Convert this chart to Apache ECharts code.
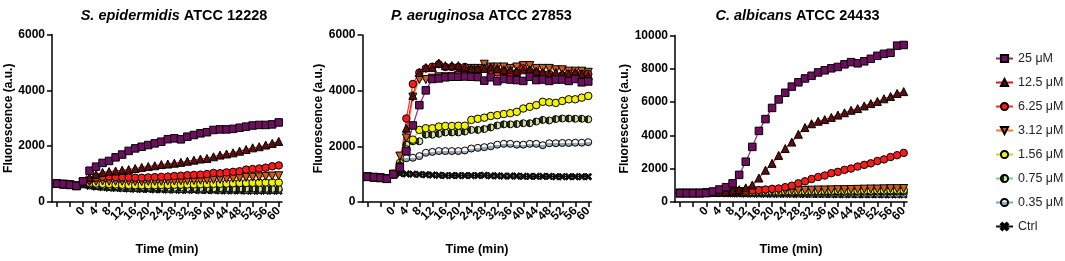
<!DOCTYPE html>
<html>
<head>
<meta charset="utf-8">
<script src="https://cdn.jsdelivr.net/npm/echarts@6/dist/echarts.min.js"></script>
<style>
    html, body { margin: 0; padding: 0; background: #fff; }
    #chart { width: 1065px; height: 261px; }
</style>
</head>
<body>
<div id="chart"></div>
<script>
// time points (min), sampled every 2 min
var times = [-8,-6,-4,-2,0,2,4,6,8,10,12,14,16,18,20,22,24,26,28,30,32,34,36,38,40,42,44,46,48,50,52,54,56,58,60];
var tickValues = [-8,-4,0,4,8,12,16,20,24,28,32,36,40,44,48,52,56,60];
// 56 goes on its own label axis, otherwise echarts drops it next to the max label
var labelValues = [0,4,8,12,16,20,24,28,32,36,40,44,48,52,60];
var extraLabel = [56];
var concNames = ['25 μM','12.5 μM','6.25 μM','3.12 μM','1.56 μM','0.75 μM','0.35 μM','Ctrl'];

// S. epidermidis ATCC 12228
var epi25   = [660,640,620,580,740, 1120,1265,1400,1470,1600,1700,1830,1920,1980,2040, 2100,2160,2250,2280,2245,2340,2400,2460,2500,2580, 2600,2600,2620,2660,2700,2740,2760,2760,2780,2850];
var epi12_5 = [660,640,620,580,720, 880,990,1060,1090,1110,1140,1160,1200,1240,1270, 1300,1340,1360,1390,1420,1460,1500,1540,1560,1620, 1680,1720,1760,1820,1880,1940,1980,2040,2100,2170];
var epi6_25 = [660,640,620,580,720, 800,870,900,910,890,880,880,870,870,880, 890,900,910,930,940,960,970,980,1000,1040, 1030,1060,1080,1100,1160,1180,1200,1230,1280,1310];
var epi3_12 = [660,640,620,580,700, 720,740,750,740,740,740,740,730,730,740, 740,740,750,750,760,760,770,780,790,800, 810,830,850,860,880,890,900,920,930,940];
var epi1_56 = [660,640,620,580,690, 680,660,650,640,630,620,610,600,600,600, 600,610,610,620,620,630,630,640,640,650, 650,660,670,680,680,690,690,700,700,700];
var epi0_75 = [660,640,620,580,650, 620,600,580,570,560,550,540,540,530,530, 520,520,510,510,510,500,500,500,500,490, 490,490,480,480,480,480,470,470,470,470];
var epi0_35 = [660,640,620,580,630, 590,570,550,530,520,510,500,500,490,490, 480,480,470,470,460,460,460,450,450,450, 440,440,440,440,430,430,430,430,430,430];
var epiCtrl = [660,640,620,580,610, 570,540,520,500,490,480,470,460,450,450, 440,440,430,430,420,420,420,410,410,410, 400,400,400,400,390,390,390,390,390,390];

// P. aeruginosa ATCC 27853
var aer25   = [910,890,870,840,1000, 1240,1830,2750,3480,4010,4420,4440,4480,4500,4500, 4510,4500,4490,4360,4480,4340,4420,4400,4380,4350, 4500,4380,4400,4350,4400,4400,4350,4420,4300,4330];
var aer12_5 = [910,890,870,840,1000, 1360,2650,3830,4650,4830,4830,4990,4900,4900,4900, 4850,4800,4800,4800,4850,4800,4750,4750,4700,4750, 4750,4700,4650,4600,4650,4600,4600,4650,4600,4550];
var aer6_25 = [910,890,870,840,1000, 1300,3000,4240,4650,4800,4860,4950,4850,4850,4850, 4850,4750,4750,4800,4750,4650,4700,4600,4650,4800, 4700,4650,4600,4600,4500,4550,4600,4550,4600,4600];
var aer3_12 = [910,890,870,840,1000, 1650,2300,3770,4400,4400,4450,4500,4500,4500,4550, 4550,4800,4800,4950,4850,4850,4850,4800,4850,4900, 4900,4800,4800,4800,4750,4750,4700,4700,4700,4660];
var aer1_56 = [910,890,870,840,1000, 1400,1890,2240,2590,2650,2650,2710,2730,2730,2740, 2740,2950,2990,3030,3090,3120,3160,3190,3240,3360, 3420,3480,3600,3580,3560,3630,3690,3690,3750,3810];
var aer0_75 = [910,890,870,840,1000, 1350,2060,2180,2180,2420,2420,2450,2500,2500,2500, 2530,2590,2590,2620,2680,2750,2790,2790,2800,2830, 2830,2890,2950,2930,2980,3000,3000,2990,2990,2970];
var aer0_35 = [910,890,870,840,1000, 1250,1570,1590,1650,1770,1800,1830,1830,1830,1830, 1850,1920,1945,1970,2000,2060,2090,2090,2060,2060, 2090,2090,2040,2110,2110,2120,2120,2130,2130,2150];
var aerCtrl = [910,890,870,840,1000, 1020,1010,1000,990,980,970,960,950,950,950, 950,950,950,960,940,940,930,930,930,920, 920,920,920,920,910,910,910,910,910,910];

// C. albicans ATCC 24433
var alb25   = [530,530,530,530,540, 630,750,890,1120,1630,2420,3310,4270,4980,5650, 6160,6560,6930,7190,7420,7580,7780,7910,8030,8110, 8270,8400,8330,8450,8600,8780,8900,8960,9390,9430];
var alb12_5 = [540,540,540,540,560, 580,600,630,680,740,850,1020,1440,1910,2320, 2800,3210,3600,4070,4470,4700,4850,4950,5080,5220, 5360,5510,5610,5770,5910,6040,6200,6340,6520,6630];
var alb6_25 = [540,540,540,540,560, 580,600,620,640,660,680,700,720,750,790, 810,890,980,1120,1240,1380,1500,1590,1730,1810, 1930,2010,2130,2230,2320,2460,2560,2700,2810,2950];
var alb3_12 = [540,540,540,540,560, 570,590,600,610,620,630,640,650,650,660, 670,680,690,690,700,710,720,720,730,740, 740,750,760,770,780,780,790,800,800,810];
var alb1_56 = [540,540,540,540,550, 560,570,580,580,590,600,600,610,610,620, 620,630,630,640,640,650,650,660,660,670, 670,680,680,690,690,700,700,710,710,720];
var alb0_75 = [540,540,540,540,545, 550,555,560,560,565,570,570,575,575,580, 580,585,585,590,590,595,595,600,600,600, 605,605,610,610,610,615,615,620,620,620];
var alb0_35 = [540,540,540,540,540, 535,530,530,525,525,520,520,515,515,510, 510,510,505,505,505,500,500,500,500,495, 495,495,490,490,490,490,490,485,485,485];
var albCtrl = [540,540,540,540,530, 520,510,500,495,490,485,480,475,470,470, 465,465,460,460,455,455,450,450,450,445, 445,445,440,440,440,440,435,435,435,435];

var panels = [
    { title: 'S. epidermidis', strain: 'ATCC 12228', yMax: 6000, data: [epi25, epi12_5, epi6_25, epi3_12, epi1_56, epi0_75, epi0_35, epiCtrl] },
    { title: 'P. aeruginosa', strain: 'ATCC 27853', yMax: 6000, data: [aer25, aer12_5, aer6_25, aer3_12, aer1_56, aer0_75, aer0_35, aerCtrl] },
    { title: 'C. albicans', strain: 'ATCC 24433', yMax: 10000, data: [alb25, alb12_5, alb6_25, alb3_12, alb1_56, alb0_75, alb0_35, albCtrl] }
];

var FONT = 'Arial, "Liberation Sans", sans-serif';

function split(c1, c2, vertical) {
    return {
        type: 'linear', x: 0, y: 0, x2: vertical ? 0 : 1, y2: vertical ? 1 : 0,
        colorStops: [
            { offset: 0, color: c1 }, { offset: 0.5, color: c1 },
            { offset: 0.5, color: c2 }, { offset: 1, color: c2 }
        ]
    };
}

var xMark = 'path://M2,0L5,3L8,0L10,2L7,5L10,8L8,10L5,7L2,10L0,8L3,5L0,2Z';

// line colour, symbol, fill, size
var styles = [
    { line: '#8e2a86', symbol: 'rect', fill: '#6d0f5e', size: 7.5 },
    { line: '#e8141c', symbol: 'triangle', fill: '#5a0e0e', size: 8 },
    { line: '#ff2a1a', symbol: 'circle', fill: '#ff1a1a', size: 7.5 },
    { line: '#ff7a20', symbol: 'triangle', fill: '#d45a1a', size: 8, rotate: 180 },
    { line: '#d8d800', symbol: 'circle', fill: '#f2f200', size: 7.5 },
    { line: '#5ee07a', symbol: 'circle', fill: split('#2a2a1a', '#d4e3a0', false), size: 7 },
    { line: '#5aaee8', symbol: 'circle', fill: split('#f4f4f4', '#9aa8b4', true), size: 7 },
    { line: '#111111', symbol: xMark, fill: '#111111', size: 7 }
];

var grids = [
    { left: 52, top: 34.5, width: 230, height: 167.5 },
    { left: 362.5, top: 35, width: 229, height: 170 },
    { left: 675, top: 35.5, width: 232, height: 169.5 }
];
var titleX = [169, 476.5, 792.5];
var yNameGap = [36, 32, 44];

var titles = [], xAxes = [], yAxes = [], series = [];

var xLabelStyle = {
    rotate: 45, margin: 7, hideOverlap: false,
    showMinLabel: true, showMaxLabel: true, lineHeight: 7,
    fontFamily: FONT, fontSize: 12, fontWeight: 'bold', color: '#000'
};

panels.forEach(function (p, g) {
    titles.push({
        text: '{i|' + p.title + '} {n|' + p.strain + '}',
        left: titleX[g], top: 3, textAlign: 'center',
        textStyle: {
            fontFamily: FONT, fontSize: 14.5, fontWeight: 'bold', color: '#000',
            rich: {
                i: { fontFamily: FONT, fontSize: 14.5, fontWeight: 'bold', fontStyle: 'italic', color: '#000' },
                n: { fontFamily: FONT, fontSize: 14.5, fontWeight: 'bold', color: '#000' }
            }
        }
    });
    xAxes.push({
        type: 'value', gridIndex: g, position: 'bottom', min: -9.5, max: 61,
        name: 'Time (min)', nameLocation: 'middle', nameGap: 41,
        nameTextStyle: { fontFamily: FONT, fontSize: 12.5, fontWeight: 'bold', color: '#000' },
        axisLine: { onZero: false, lineStyle: { color: '#000', width: 1.5 } },
        axisTick: { length: 5, lineStyle: { color: '#000', width: 1.5 }, customValues: tickValues },
        axisLabel: Object.assign({ customValues: labelValues }, xLabelStyle),
        splitLine: { show: false }
    });
    xAxes.push({
        type: 'value', gridIndex: g, position: 'bottom', offset: 0, min: -9.5, max: 61,
        axisLine: { show: false, onZero: false },
        axisTick: { show: false },
        axisLabel: Object.assign({ customValues: extraLabel }, xLabelStyle),
        splitLine: { show: false }
    });
    yAxes.push({
        type: 'value', gridIndex: g, min: 0, max: p.yMax, interval: 2000,
        name: 'Fluorescence (a.u.)', nameLocation: 'middle', nameGap: yNameGap[g],
        nameTextStyle: { fontFamily: FONT, fontSize: 12, fontWeight: 'bold', color: '#000' },
        axisLine: { show: true, onZero: false, lineStyle: { color: '#000', width: 1.5 } },
        axisTick: { show: true, length: 5, lineStyle: { color: '#000', width: 1.5 } },
        axisLabel: {
            margin: 7, fontFamily: FONT, fontSize: 12, fontWeight: 'bold', color: '#000',
            formatter: function (v) { return String(v); }
        },
        splitLine: { show: false }
    });
    // draw Ctrl first so the highest concentration ends on top
    for (var k = concNames.length - 1; k >= 0; k--) {
        var s = styles[k], vals = p.data[k];
        series.push({
            name: concNames[k], type: 'line', xAxisIndex: 2 * g, yAxisIndex: g,
            data: times.map(function (t, i) { return [t, vals[i]]; }),
            symbol: s.symbol, symbolSize: s.size, symbolRotate: s.rotate || 0,
            showAllSymbol: true, animation: false,
            lineStyle: { color: s.line, width: 1.2 },
            itemStyle: { color: s.fill, borderColor: '#000', borderWidth: 1 }
        });
    }
});

var myChart = echarts.init(document.getElementById('chart'));
myChart.setOption({
    backgroundColor: '#fff',
    animation: false,
    title: titles,
    legend: {
        data: concNames, orient: 'vertical', left: 990, top: 47,
        itemGap: 11, itemWidth: 17, itemHeight: 9,
        textStyle: { fontFamily: FONT, fontSize: 12.5, color: '#222' }
    },
    grid: grids,
    xAxis: xAxes,
    yAxis: yAxes,
    series: series
});
</script>
</body>
</html>
